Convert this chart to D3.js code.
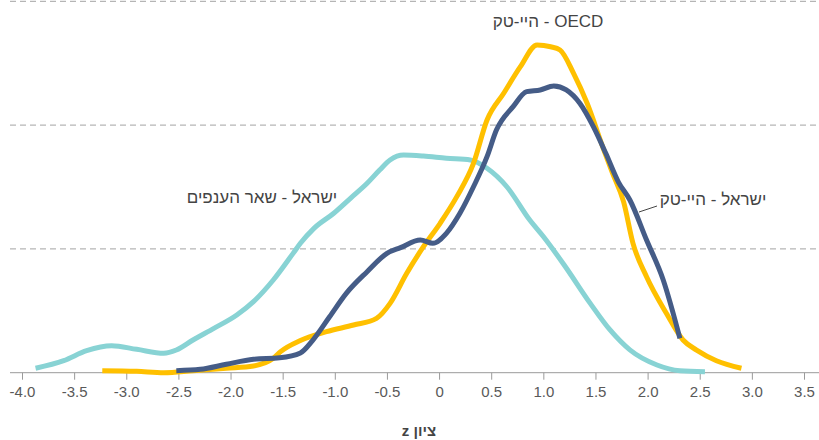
<!DOCTYPE html>
<html lang="he">
<head>
<meta charset="utf-8">
<script src="https://cdn.jsdelivr.net/npm/d3@7"></script>
<style>
    body { margin: 0; background: #fff; }
    svg { display: block; font-family: "Liberation Sans", Arial, sans-serif; }
    .tick-label { font-size: 15px; fill: #595959; }
    .series-label { font-size: 17px; fill: #444; }
</style>
</head>
<body>
<svg id="chart" width="819" height="440"></svg>
<script>

// z score -> density (in grid units)
let other_x  = [-3.87,-3.60,-3.38,-3.14,-2.90,-2.64,-2.52,-2.36,-2.16,-1.94,-1.78,-1.59,-1.40,-1.33,-1.20,-1.01,-0.85,-0.69,-0.57,-0.47,-0.34,-0.15,0.07,0.30,0.46,0.65,0.87,1.00,1.20,1.45,1.64,1.83,2.09,2.31,2.55];
let other_y  = [0.036,0.097,0.178,0.218,0.189,0.157,0.183,0.264,0.358,0.466,0.574,0.749,0.964,1.045,1.166,1.288,1.409,1.530,1.637,1.718,1.758,1.750,1.732,1.718,1.651,1.502,1.233,1.10,0.87,0.56,0.345,0.184,0.062,0.016,0.008];

let il_tech_x = [-2.52,-2.29,-2.04,-1.78,-1.53,-1.33,-1.21,-1.05,-0.89,-0.69,-0.50,-0.37,-0.18,-0.06,0.07,0.20,0.33,0.46,0.55,0.71,0.84,0.97,1.10,1.22,1.35,1.48,1.60,1.72,1.83,1.99,2.15,2.31];
let il_tech_y = [0.016,0.027,0.068,0.108,0.12,0.16,0.264,0.452,0.641,0.816,0.964,1.01,1.072,1.045,1.126,1.288,1.502,1.745,1.960,2.149,2.27,2.284,2.316,2.284,2.176,1.987,1.77,1.54,1.395,1.072,0.749,0.278];

let oecd_x = [-3.23,-2.90,-2.64,-2.36,-2.04,-1.78,-1.59,-1.52,-1.33,-1.08,-0.82,-0.60,-0.47,-0.31,-0.15,0.01,0.17,0.33,0.46,0.62,0.78,0.94,1.07,1.16,1.29,1.42,1.58,1.66,1.77,1.86,1.99,2.18,2.34,2.47,2.66,2.90];
let oecd_y = [0.016,0.011,0.0,0.016,0.036,0.054,0.116,0.17,0.26,0.331,0.385,0.439,0.56,0.803,1.018,1.207,1.422,1.69,2.041,2.257,2.472,2.647,2.633,2.607,2.418,2.176,1.80,1.62,1.38,1.045,0.775,0.48,0.264,0.183,0.097,0.036];

let x_ticks = [-4,-3.5,-3,-2.5,-2,-1.5,-1,-0.5,0,0.5,1,1.5,2,2.5,3,3.5];
let x_tick_labels = ["-4.0","-3.5","-3.0","-2.5","-2.0","-1.5","-1.0","-0.5","0","0.5","1.0","1.5","2.0","2.5","3.0","3.5"];
let grid_values = [1, 2, 3];

let series_names = ["ישראל - שאר הענפים", "OECD - היי-טק", "ישראל - היי-טק"];
let series_colors = ["#88d3d4", "#ffc000", "#455c87"];

const svg = d3.select("#chart");

let x = d3.scaleLinear().domain([-4, 3.5]).range([22, 804]);
let y = d3.scaleLinear().domain([0, 3]).range([372.7, 1.3]);

// dashed grid
svg.append("g")
    .selectAll("line")
    .data(grid_values)
    .join("line")
        .attr("x1", 10)
        .attr("x2", 819)
        .attr("y1", d => y(d))
        .attr("y2", d => y(d))
        .style("stroke", "#a3a3a3")
        .style("stroke-dasharray", "6,4")
        .style("stroke-width", 1);

// x axis
let xAxis = d3.axisBottom(x)
    .tickValues(x_ticks)
    .tickSize(7)
    .tickPadding(7)
    .tickFormat((d, i) => x_tick_labels[i]);

let ax = svg.append("g")
    .attr("transform", "translate(0," + y(0) + ")")
    .call(xAxis);
ax.select(".domain").remove();
ax.selectAll(".tick line").style("stroke", "#9a9a9a");
ax.selectAll(".tick text")
    .attr("class", "tick-label")
    .style("font-family", null)
    .style("font-size", null);
ax.append("line")
    .attr("x1", 10)
    .attr("x2", 819)
    .style("stroke", "#9a9a9a");

svg.append("text")
    .attr("x", 419)
    .attr("y", 436)
    .attr("text-anchor", "middle")
    .attr("direction", "rtl")
    .style("font-size", "15px")
    .style("font-weight", "bold")
    .style("fill", "#444")
    .text("ציון z");

// curves
let line = d3.line()
    .x(d => x(d[0]))
    .y(d => y(d[1]))
    .curve(d3.curveMonotoneX);

let series = [
    d3.zip(other_x, other_y),
    d3.zip(oecd_x, oecd_y),
    d3.zip(il_tech_x, il_tech_y)
];

svg.append("g")
    .selectAll("path")
    .data(series)
    .join("path")
        .attr("d", line)
        .style("fill", "none")
        .style("stroke", (d, i) => series_colors[i])
        .style("stroke-width", 5)
        .style("stroke-linejoin", "round");

// labels
svg.append("text")
    .attr("class", "series-label")
    .attr("x", 262).attr("y", 203)
    .attr("text-anchor", "middle")
    .attr("direction", "rtl")
    .text(series_names[0]);

svg.append("text")
    .attr("class", "series-label")
    .attr("x", 548).attr("y", 27)
    .attr("text-anchor", "middle")
    .attr("direction", "rtl")
    .text(series_names[1]);

svg.append("text")
    .attr("class", "series-label")
    .attr("x", 713).attr("y", 205)
    .attr("text-anchor", "middle")
    .attr("direction", "rtl")
    .text(series_names[2]);

svg.append("line")
    .attr("x1", 639).attr("y1", 212)
    .attr("x2", 657).attr("y2", 206)
    .style("stroke", "#444")
    .style("stroke-width", 1);

</script>
</body>
</html>
